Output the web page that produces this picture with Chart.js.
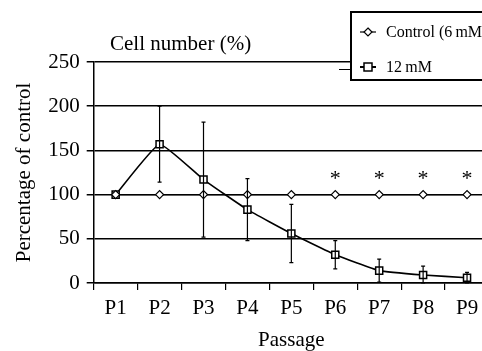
<!DOCTYPE html>
<html>
<head>
<meta charset="utf-8">
<script src="https://cdn.jsdelivr.net/npm/chart.js@4.4.1/dist/chart.umd.min.js"></script>
<style>
    html, body { margin: 0; padding: 0; background: #fff; overflow: hidden; }
    #wrap { position: relative; width: 500px; height: 353px; }
    #plotTitle {
        position: absolute; left: 110px; top: 31px;
        font: 21px "Liberation Serif", serif; color: #000; white-space: nowrap;
    }
    #legendBox {
        position: absolute; left: 350px; top: 11px; width: 160px; height: 66px;
        border: 2px solid #000; background: #fff;
        font: 16px "Liberation Serif", serif; color: #000;
    }
    #legendTick { position: absolute; left: 339px; top: 69px; width: 12px; height: 1px; background: #000; }
    .legend-item { position: absolute; left: 8px; height: 20px; display: flex; align-items: center; white-space: nowrap; }
    .legend-item svg { margin-right: 10px; }
</style>
</head>
<body>
<div id="wrap">
    <canvas id="myChart" width="500" height="353"></canvas>
    <div id="plotTitle">Cell number (%)</div>
    <div id="legendTick"></div>
    <div id="legendBox">
        <div class="legend-item" style="top:9px">
            <svg width="16" height="12"><line x1="0" y1="6" x2="16" y2="6" stroke="#000" stroke-width="1.2"/><path d="M8 2 L12 6 L8 10 L4 6 Z" fill="#fff" stroke="#000" stroke-width="1.2"/></svg>Control (6&#8201;mM)
        </div>
        <div class="legend-item" style="top:44px">
            <svg width="16" height="12"><line x1="0" y1="6" x2="16" y2="6" stroke="#000" stroke-width="2"/><rect x="4" y="2" width="8" height="8" fill="#fff" stroke="#000" stroke-width="1.5"/></svg>12&#8201;mM
        </div>
    </div>
</div>
<script>
// 데이터
const passages = ["P1", "P2", "P3", "P4", "P5", "P6", "P7", "P8", "P9"];
const controlValues = [100, 100, 100, 100, 100, 100, 100, 100, 100];
const highValues = [100, 157, 117, 83, 56, 32, 14, 9, 6];
const highErrors = [0, 43, 65, 35, 33, 16, 13, 10, 6];
const sigMarks = ["", "", "", "", "", "*", "*", "*", "*"];
const yTicks = [0, 50, 100, 150, 200, 250];

const serif = "'Liberation Serif', serif";

// 오차 막대 + 별표
const errorBarPlugin = {
    id: "errorBars",
    afterDatasetsDraw(chart) {
        const ctx = chart.ctx;
        const x = chart.scales.x;
        const y = chart.scales.y;
        ctx.save();
        ctx.strokeStyle = "#000";
        ctx.lineWidth = 1.2;
        highValues.forEach((v, i) => {
            const e = highErrors[i];
            if (!e) return;
            const px = x.getPixelForValue(i);
            const top = y.getPixelForValue(v + e);
            const bot = y.getPixelForValue(Math.max(v - e, 0));
            ctx.beginPath();
            ctx.moveTo(px, top); ctx.lineTo(px, bot);
            ctx.moveTo(px - 2, top); ctx.lineTo(px + 2, top);
            ctx.moveTo(px - 2, bot); ctx.lineTo(px + 2, bot);
            ctx.stroke();
        });
        ctx.fillStyle = "#000";
        ctx.font = "22px " + serif;
        ctx.textAlign = "center";
        ctx.textBaseline = "middle";
        sigMarks.forEach((m, i) => {
            if (m) ctx.fillText(m, x.getPixelForValue(i), y.getPixelForValue(122) + 4);
        });
        ctx.restore();
    }
};

const chart = new Chart(document.getElementById("myChart"), {
    type: "line",
    data: {
        labels: passages,
        datasets: [
            {
                label: "Control (6 mM)",
                data: controlValues,
                borderColor: "#000",
                borderWidth: 1.2,
                pointStyle: "rectRot",
                pointRadius: 4,
                pointBackgroundColor: "#fff",
                pointBorderColor: "#000",
                pointBorderWidth: 1.2,
                tension: 0
            },
            {
                label: "12 mM",
                data: highValues,
                borderColor: "#000",
                borderWidth: 1.6,
                pointStyle: "rect",
                pointRadius: 5,
                pointBackgroundColor: "#fff",
                pointBorderColor: "#000",
                pointBorderWidth: 1.5,
                tension: 0.12
            }
        ]
    },
    options: {
        responsive: false,
        animation: false,
        layout: { padding: { top: 62, right: 11, left: 8, bottom: 0 } },
        plugins: {
            legend: { display: false },
            tooltip: { enabled: false }
        },
        scales: {
            x: {
                offset: true,
                afterFit: scale => { scale.height = 70; },
                grid: { offset: true, drawOnChartArea: false, color: "#000", lineWidth: 1.2, tickLength: 7 },
                border: { color: "#000", width: 1.5 },
                ticks: { color: "#000", font: { family: serif, size: 21 }, padding: 6, maxRotation: 0 },
                title: { display: true, text: "Passage", color: "#000", font: { family: serif, size: 21 }, padding: 0 }
            },
            y: {
                min: 0,
                max: 250,
                afterBuildTicks: scale => { scale.ticks = yTicks.map(v => ({ value: v })); },
                grid: { color: "#000", lineWidth: 1.5, tickLength: 7 },
                border: { color: "#000", width: 1.5 },
                ticks: { color: "#000", font: { family: serif, size: 21 }, padding: 7 },
                title: { display: true, text: "Percentage of control", color: "#000", font: { family: serif, size: 21 }, padding: { bottom: 4 } }
            }
        }
    },
    plugins: [errorBarPlugin]
});
</script>
</body>
</html>
